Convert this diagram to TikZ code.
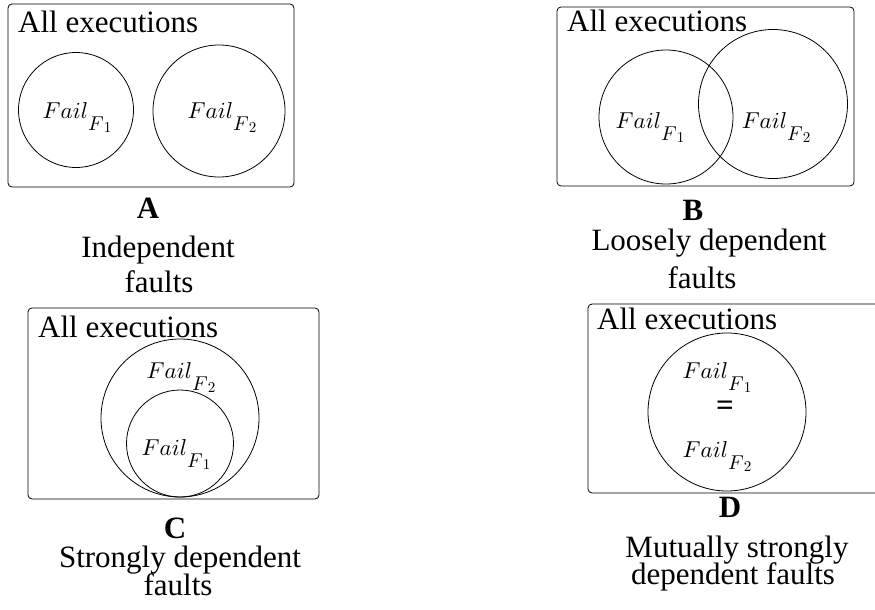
\documentclass[tikz,border=0pt]{standalone}
\usepackage{fontspec}
\setmainfont{Liberation Serif}
\newcommand\captxt{\fontsize{31}{36}\selectfont}
\newcommand\failof[1]{\scalebox{2.3}{\normalsize$Fail$}%
	\raisebox{-12pt}{\scalebox{2.0}{\normalsize$F$}\raisebox{-2pt}{\scalebox{1.5}{\normalsize$#1$}}}}
\begin{document}
\begin{tikzpicture}[x=1pt,y=-1pt,
	frame/.style={draw, rounded corners=4pt, line width=0.8pt},
	venn/.style={draw, circle, inner sep=0pt, line width=0.8pt, minimum size=#1},
	setname/.style={anchor=base, inner sep=0pt},
	title/.style={anchor=base west, font=\captxt, inner sep=0pt},
	caption/.style={anchor=base, font=\captxt, inner sep=0pt},
	letter/.style={anchor=base, font=\captxt\bfseries, inner sep=0pt}]
	\useasboundingbox (0,0) rectangle (875,610);
	\clip (0,0) rectangle (875,610);
	% A: independent
	\draw[frame] (8,4) rectangle (294,187);
	\node[title] (allA) at (18,33) {All executions};
	\node[venn=115pt] (setA1) at (76,110) {};
	\node[venn=132pt] (setA2) at (219,111) {};
	\node[setname] (nameA1) at (77,118) {\failof{1}};
	\node[setname] (nameA2) at (222,118) {\failof{2}};
	\node[letter] (letA) at (148,218) {A};
	\node[caption] (capA1) at (158,257) {Independent};
	\node[caption] (capA2) at (159,292) {faults};
	% B: loosely dependent
	\draw[frame] (557,7) rectangle (854,186);
	\node[title] (allB) at (567,32) {All executions};
	\node[venn=134pt] (setB1) at (666,117) {};
	\node[venn=149pt] (setB2) at (773,104) {};
	\node[setname] (nameB1) at (650,128) {\failof{1}};
	\node[setname] (nameB2) at (776,128) {\failof{2}};
	\node[letter] (letB) at (693,220) {B};
	\node[caption] (capB1) at (709,250) {Loosely dependent};
	\node[caption] (capB2) at (702,288) {faults};
	% C: strongly dependent
	\draw[frame] (28,308) rectangle (319,499);
	\node[title] (allC) at (38,337) {All executions};
	\node[venn=158pt] (setC2) at (180,418) {};
	\node[venn=107pt] (setC1) at (180,443.5) {};
	\node[setname] (nameC2) at (181,378) {\failof{2}};
	\node[setname] (nameC1) at (176,455) {\failof{1}};
	\node[letter] (letC) at (175,538) {C};
	\node[caption] (capC1) at (180,567) {Strongly dependent};
	\node[caption] (capC2) at (178,595) {faults};
	% D: mutually strongly dependent
	\draw[frame] (588,304) rectangle (885,493);
	\node[title] (allD) at (597,329) {All executions};
	\node[venn=158pt] (setD) at (727,412) {};
	\node[setname] (nameD1) at (717,378) {\failof{1}};
	\node[font=\captxt\bfseries, inner sep=0pt] (eqD) at (725,408) {=};
	\node[setname] (nameD2) at (717,457) {\failof{2}};
	\node[letter] (letD) at (730,517) {D};
	\node[caption] (capD1) at (737,557) {Mutually strongly};
	\node[caption] (capD2) at (733,584) {dependent faults};
\end{tikzpicture}
\end{document}
